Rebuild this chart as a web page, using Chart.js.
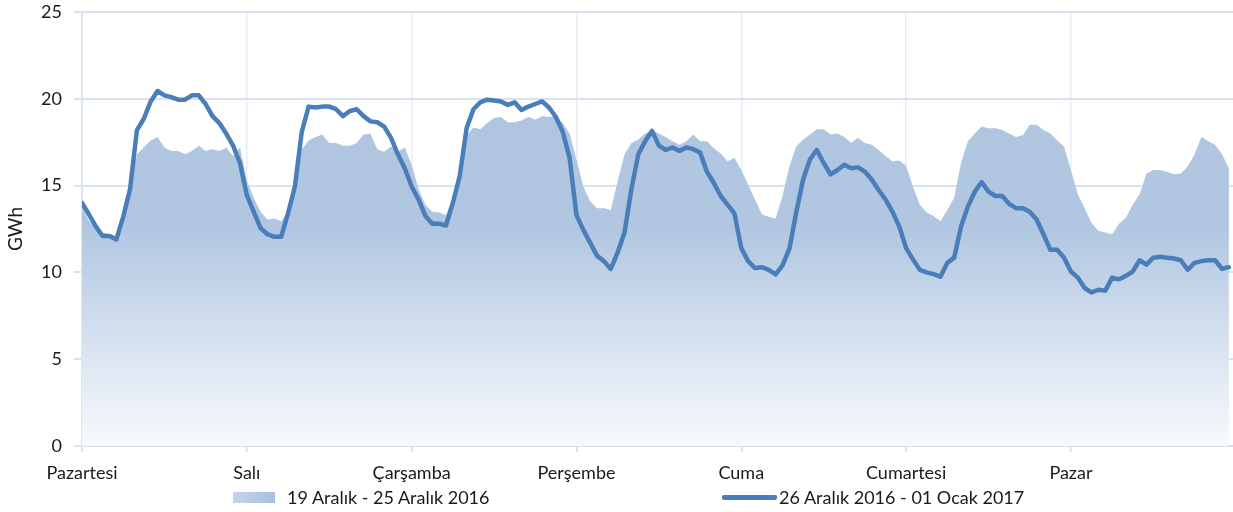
<!DOCTYPE html>
<html>
<head>
<meta charset="utf-8">
<script src="https://cdn.jsdelivr.net/npm/chart.js@4.4.1/dist/chart.umd.min.js"></script>
<style>
  html, body { margin: 0; padding: 0; background: #ffffff; overflow: hidden; }
  #wrap { position: relative; width: 1233px; height: 512px; }
  canvas { position: absolute; left: 0; top: 0; }
  .lg { position: absolute; font-family: Lato, "Open Sans", sans-serif; font-size: 18px; color: #1a1a1a; white-space: nowrap; line-height: 20px; }
  .box { position: absolute; }
</style>
</head>
<body>
<div id="wrap">
  <canvas id="c" width="1233" height="512"></canvas>
  <div class="box" style="left:233px; top:492px; width:42px; height:11px; background: linear-gradient(90deg, #c4d4ea, #a8c0df);"></div>
  <div class="lg" style="left:287px; top:487px;">19 Aralık - 25 Aralık 2016</div>
  <div class="box" style="left:722px; top:495px; width:55px; height:5px; border-radius:2px; background:#4a7ebb;"></div>
  <div class="lg" style="left:779px; top:487px;">26 Aralık 2016 - 01 Ocak 2017</div>
</div>
<script>
// Day names (x-axis tick labels, one per 24 hours)
const days = ["Pazartesi", "Salı", "Çarşamba", "Perşembe", "Cuma", "Cumartesi", "Pazar"];
const yTicks = [0, 5, 10, 15, 20, 25];
const seriesNames = ["19 Aralık - 25 Aralık 2016", "26 Aralık 2016 - 01 Ocak 2017"];

// Hourly consumption, GWh — week of 19–25 Dec 2016 (area)
const week2016 = [
  13.8, 13.0, 12.5, 12.3, 12.2, 12.1, 13.3, 15.0, 16.8, 17.2, 17.6, 17.8, 17.2, 17.0, 17.0, 16.8, 17.0, 17.3, 17.0, 17.1, 17.0, 17.2, 16.7, 17.2,
  15.3, 14.3, 13.5, 13.05, 13.1, 12.95, 13.5, 15.2, 17.1, 17.6, 17.8, 17.95, 17.45, 17.45, 17.3, 17.3, 17.45, 17.95, 18.0, 17.1, 16.95, 17.25, 16.95, 17.2,
  16.2, 14.8, 13.9, 13.5, 13.45, 13.3, 14.2, 15.8, 17.9, 18.35, 18.25, 18.6, 18.9, 18.95, 18.65, 18.65, 18.75, 18.95, 18.8, 19.0, 18.95, 19.0, 18.6, 18.0,
  16.5, 14.95, 14.1, 13.7, 13.7, 13.6, 15.25, 16.8, 17.45, 17.65, 18.0, 18.2, 18.0, 17.8, 17.55, 17.35, 17.55, 17.95, 17.55, 17.55, 17.15, 16.85, 16.4, 16.6,
  15.9, 15.05, 14.2, 13.35, 13.2, 13.1, 14.4, 16.1, 17.25, 17.65, 17.95, 18.25, 18.25, 17.95, 18.0, 17.8, 17.45, 17.75, 17.45, 17.35, 17.05, 16.7, 16.4, 16.45,
  16.15, 14.95, 13.9, 13.45, 13.25, 12.95, 13.6, 14.3, 16.3, 17.55, 18.0, 18.4, 18.3, 18.3, 18.2, 18.0, 17.8, 17.9, 18.5, 18.5, 18.2, 18.0, 17.6, 17.25,
  15.9, 14.5, 13.7, 12.85, 12.4, 12.3, 12.2, 12.8, 13.15, 13.9, 14.5, 15.7, 15.9, 15.9, 15.8, 15.65, 15.7, 16.1, 16.8, 17.8, 17.55, 17.35, 16.8, 16.0
];

// Hourly consumption, GWh — week of 26 Dec 2016 – 01 Jan 2017 (line)
const week2017 = [
  14.0, 13.35, 12.65, 12.1, 12.1, 11.9, 13.2, 14.8, 18.2, 18.85, 19.85, 20.45, 20.2, 20.1, 19.95, 19.95, 20.2, 20.2, 19.7, 19.0, 18.6, 18.0, 17.3, 16.3,
  14.45, 13.5, 12.55, 12.2, 12.05, 12.05, 13.4, 14.95, 18.1, 19.55, 19.5, 19.55, 19.55, 19.4, 19.0, 19.3, 19.4, 19.0, 18.7, 18.65, 18.4, 17.75, 16.8, 16.0,
  14.95, 14.2, 13.25, 12.8, 12.8, 12.7, 14.0, 15.55, 18.3, 19.4, 19.8, 19.95, 19.9, 19.85, 19.65, 19.8, 19.35, 19.55, 19.7, 19.85, 19.5, 18.95, 18.1, 16.6,
  13.3, 12.45, 11.7, 10.95, 10.65, 10.2, 11.15, 12.3, 14.8, 16.8, 17.55, 18.15, 17.3, 17.05, 17.2, 17.0, 17.2, 17.1, 16.9, 15.8, 15.15, 14.4, 13.9, 13.4,
  11.4, 10.65, 10.25, 10.3, 10.15, 9.88, 10.4, 11.35, 13.45, 15.35, 16.5, 17.05, 16.3, 15.65, 15.9, 16.2, 16.0, 16.05, 15.8, 15.35, 14.75, 14.2, 13.5, 12.65,
  11.4, 10.75, 10.15, 10.0, 9.9, 9.75, 10.55, 10.85, 12.65, 13.8, 14.65, 15.2, 14.65, 14.4, 14.4, 13.95, 13.7, 13.7, 13.5, 13.05, 12.2, 11.3, 11.3, 10.85,
  10.05, 9.7, 9.1, 8.85, 9.0, 8.95, 9.7, 9.6, 9.8, 10.05, 10.7, 10.45, 10.85, 10.9, 10.85, 10.8, 10.7, 10.15, 10.55, 10.65, 10.7, 10.7, 10.2, 10.3
];

// hour index of each value (0 = Monday 00:00)
const hours = week2016.map((_, i) => i);

const FONT = 'Lato, "Open Sans", sans-serif';

function areaFill(context) {
  const chart = context.chart;
  const area = chart.chartArea;
  if (!area) return '#b0c6e1';
  const g = chart.ctx.createLinearGradient(0, area.top, 0, area.bottom);
  g.addColorStop(0, 'rgb(172,195,223)');
  g.addColorStop(0.5, 'rgb(177,199,225)');
  g.addColorStop(1, 'rgb(248,250,253)');
  return g;
}

new Chart(document.getElementById('c'), {
  type: 'line',
  data: {
    labels: hours,
    datasets: [
      {
        label: seriesNames[1],
        data: week2017,
        borderColor: '#4a7ebb',
        borderWidth: 4.5,
        pointRadius: 0,
        fill: false,
        tension: 0,
        borderJoinStyle: 'round',
        borderCapStyle: 'round',
        order: 0
      },
      {
        label: seriesNames[0],
        data: week2016,
        borderWidth: 0,
        borderColor: 'rgba(0,0,0,0)',
        backgroundColor: areaFill,
        pointRadius: 0,
        fill: 'origin',
        tension: 0,
        order: 1
      }
    ]
  },
  options: {
    responsive: false,
    animation: false,
    layout: { padding: { top: 12, right: 0, bottom: 22, left: 0 } },
    plugins: {
      legend: { display: false },
      tooltip: { enabled: false },
      title: { display: false }
    },
    scales: {
      x: {
        type: 'linear',
        min: 0,
        max: 167.6,
        afterBuildTicks: (scale) => {
          scale.ticks = days.map((d, i) => ({ value: i * 24 }));
        },
        afterFit: (scale) => {
          scale.height = 44;
          scale.paddingLeft = 0;
          scale.paddingRight = 0;
        },
        ticks: {
          callback: (v) => days[Math.round(v / 24)],
          font: { family: FONT, size: 18 },
          color: '#1a1a1a',
          padding: 10,
          maxRotation: 0,
          autoSkip: false
        },
        grid: {
          color: '#e6edf6',
          lineWidth: 1.5,
          tickLength: 6,
          tickColor: '#d3deec',
          tickWidth: 1.5
        },
        border: { color: '#d3deec', width: 2 }
      },
      y: {
        min: 0,
        max: 25,
        afterBuildTicks: (scale) => {
          scale.ticks = yTicks.map(v => ({ value: v }));
        },
        afterFit: (scale) => {
          scale.width = 82;
          scale.paddingTop = 0;
          scale.paddingBottom = 0;
        },
        ticks: {
          font: { family: FONT, size: 18 },
          color: '#1a1a1a',
          padding: 12
        },
        grid: {
          color: '#d9e3f0',
          lineWidth: 2,
          tickLength: 8,
          tickColor: '#d9e3f0'
        },
        border: { color: '#dde6f2', width: 2 },
        title: {
          display: true,
          text: 'GWh',
          font: { family: FONT, size: 19 },
          color: '#1a1a1a',
          padding: { top: 4.5, bottom: 0 }
        }
      }
    }
  }
});
</script>
</body>
</html>
